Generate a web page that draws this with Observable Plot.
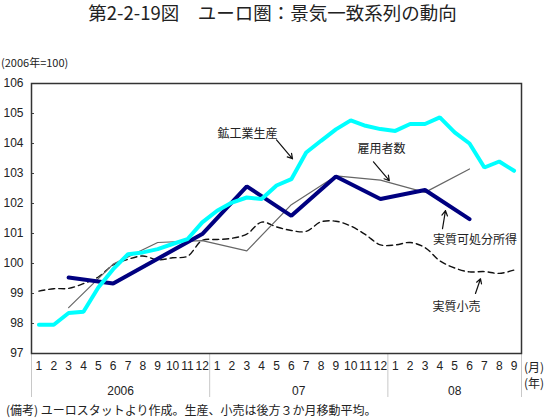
<!DOCTYPE html>
<html>
<head>
<meta charset="utf-8">
<script src="https://cdn.jsdelivr.net/npm/d3@7"></script>
<script src="https://cdn.jsdelivr.net/npm/@observablehq/plot@0.6"></script>
<style>
  body { margin: 0; background: #fff; }
  #wrap { position: relative; width: 550px; height: 419px; overflow: hidden; font-family: "Noto Sans CJK JP", sans-serif; color: #222; }
  #title { position: absolute; left: 0; width: 545px; top: 1px; text-align: center; font-size: 18.5px; line-height: 22px; }
  #sub { position: absolute; left: 1px; top: 54px; font-size: 11px; line-height: 16px; }
  #unitM, #unitY { position: absolute; left: 524px; font-size: 12px; line-height: 14px; white-space: nowrap; }
  #unitM { top: 360px; }
  #unitY { top: 376px; }
  #cap { position: absolute; left: 6px; top: 402px; font-size: 12px; line-height: 16px; white-space: nowrap; }
  #chart { position: absolute; left: 0; top: 40px; }
</style>
</head>
<body>
<div id="wrap">
  <div id="title">第2-2-19図　ユーロ圏：景気一致系列の動向</div>
  <div id="sub">(2006年=100)</div>
  <div id="chart"></div>
  <div id="unitM">(月)</div>
  <div id="unitY">(年)</div>
  <div id="cap">(備考) ユーロスタットより作成。生産、小売は後方３か月移動平均。</div>
</div>
<script>
// Month labels (Jan 2006 .. Sep 2008)
const monthLabels = ["1","2","3","4","5","6","7","8","9","10","11","12",
                     "1","2","3","4","5","6","7","8","9","10","11","12",
                     "1","2","3","4","5","6","7","8","9"];
const yearLabels = ["2006", "07", "08"];
const monthsPerYear = [12, 12, 9];
const yTicks = [97, 98, 99, 100, 101, 102, 103, 104, 105, 106];

// 鉱工業生産 (monthly, 3-month moving average)
const industrialProduction = [97.96, 97.96, 98.35, 98.39, 99.2, 99.81, 100.31, 100.37, 100.48, 100.65, 100.81, 101.37,
  101.76, 102.03, 102.2, 102.15, 102.6, 102.81, 103.7, 104.09, 104.47, 104.77, 104.59, 104.48,
  104.42, 104.65, 104.65, 104.87, 104.37, 104.0, 103.2, 103.4, 103.09];
// 実質小売 (monthly, 3-month moving average)
const realRetail = [99.08, 99.16, 99.17, 99.33, 99.55, 99.95, 100.14, 100.25, 100.12, 100.19, 100.24, 100.77,
  100.8, 100.84, 100.98, 101.38, 101.22, 101.1, 101.07, 101.39, 101.41, 101.25, 100.96, 100.62,
  100.62, 100.7, 100.53, 100.09, 99.85, 99.72, 99.73, 99.67, 99.78];
// Quarterly series, plotted at the quarter's last month index
const quarterMonthIndex = [2, 5, 8, 11, 14, 17, 20, 23, 26, 29];
const realDisposableIncome = [99.53, 99.33, 100.16, 100.98, 102.57, 101.59, 102.9, 102.15, 102.45, 101.48];
const employees = [98.53, 99.98, 100.7, 100.76, 100.42, 101.96, 102.92, 102.78, 102.37, 103.15];

// Annotation labels and arrows (month index, index value)
const labelText = ["鉱工業生産", "雇用者数", "実質可処分所得", "実質小売"];
const labelX = [14.05, 23.07, 29.37, 28.12];
const labelY = [104.32, 103.82, 100.79, 98.53];
const arrowFrom = [[16.0, 104.12], [22.53, 103.39], [27.18, 101.16], [29.4, 99.0]];
const arrowTo = [[17.08, 103.49], [23.6, 102.76], [27.38, 101.76], [29.74, 99.49]];

// Build tables
const monthly = (arr) => arr.map((v, i) => ({i, v}));
const quarterly = (arr) => arr.map((v, k) => ({i: quarterMonthIndex[k], v}));
const ipRows = monthly(industrialProduction);
const retailRows = monthly(realRetail);
const incomeRows = quarterly(realDisposableIncome);
const employRows = quarterly(employees);
const labels = labelText.map((t, k) => ({t, x: labelX[k], y: labelY[k]}));
const arrows = arrowFrom.map((f, k) => ({x1: f[0], y1: f[1], x2: arrowTo[k][0], y2: arrowTo[k][1]}));

// Year boundaries and centres derived from month counts
const boundaries = [-0.5];
const yearCenters = [];
let acc = 0;
monthsPerYear.forEach(n => { yearCenters.push(acc + (n - 1) / 2); acc += n; boundaries.push(acc - 0.5); });
const nMonths = monthLabels.length;

const numFont = "'Liberation Sans', Arial, sans-serif";
const cjk = "'Noto Sans CJK JP', sans-serif";

const chart = Plot.plot({
  width: 550,
  height: 365,
  marginTop: 43,
  marginBottom: 52,
  marginLeft: 31,
  marginRight: 29,
  style: {fontFamily: numFont, fontSize: "12px", color: "#222", background: "transparent"},
  x: {domain: [-0.5, nMonths - 0.5]},
  y: {domain: [97, 106]},
  marks: [
    Plot.axisY({ticks: yTicks, tickSize: 0, tickPadding: 8, fontSize: 12, fill: "#222"}),
    Plot.axisY({ticks: yTicks, tickSize: -3, tickFormat: () => "", stroke: "#444"}),
    Plot.axisX({ticks: d3.range(nMonths), tickSize: 0, tickPadding: 8, tickFormat: i => monthLabels[i], fontSize: 12, fill: "#222"}),
    Plot.axisX({ticks: yearCenters, tickSize: 0, tickPadding: 33, tickFormat: d => yearLabels[yearCenters.indexOf(d)], fontSize: 12, fill: "#222"}),
    Plot.axisX({ticks: boundaries, tickSize: 44, tickFormat: () => "", stroke: "#c8c8c8"}),
    Plot.frame({stroke: "#333", strokeWidth: 1.5}),
    Plot.line(retailRows, {x: "i", y: "v", stroke: "#111", strokeWidth: 1.4, strokeDasharray: "6,4", curve: "catmull-rom"}),
    Plot.line(employRows, {x: "i", y: "v", stroke: "#666", strokeWidth: 1.2}),
    Plot.line(incomeRows, {x: "i", y: "v", stroke: "#000080", strokeWidth: 4, strokeLinejoin: "miter"}),
    Plot.line(ipRows, {x: "i", y: "v", stroke: "#00ffff", strokeWidth: 4, strokeLinejoin: "miter"}),
    Plot.arrow(arrows, {x1: "x1", y1: "y1", x2: "x2", y2: "y2", stroke: "#111", strokeWidth: 1.2, headLength: 7}),
    Plot.text(labels, {x: "x", y: "y", text: "t", fontSize: 12, fontFamily: cjk, fill: "#222"})
  ]
});
document.getElementById("chart").appendChild(chart);
</script>
</body>
</html>
